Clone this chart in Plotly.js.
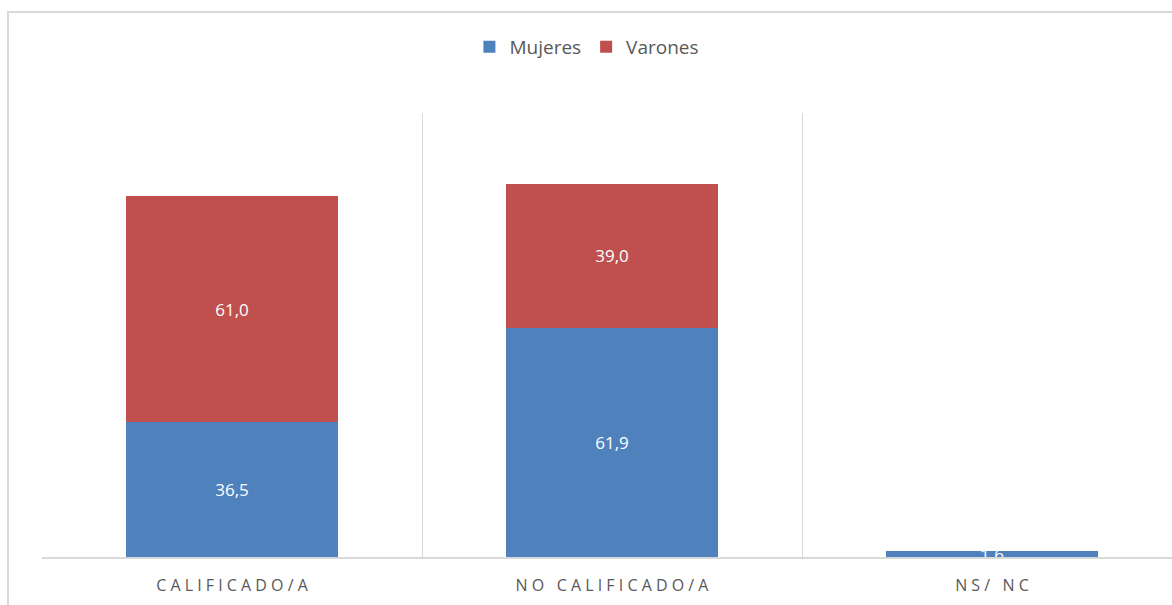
<!DOCTYPE html>
<html>
<head>
<meta charset="utf-8">
<script src="https://cdn.plot.ly/plotly-3.0.1.min.js"></script>
<style>
html, body { margin: 0; padding: 0; overflow: hidden; background: #ffffff; width: 1172px; height: 605px; }
#chart { position: absolute; left: 0; top: 0; width: 1190px; height: 605px; }
#frame { position: absolute; left: 7px; top: 11px; width: 1300px; height: 700px;
  border-top: 2px solid #d9d9d9; border-left: 2px solid #d9d9d9; pointer-events: none; }
</style>
</head>
<body>
<div id="chart"></div>
<div id="frame"></div>
<script>
const categories = ["CALIFICADO/A", "NO CALIFICADO/A", "NS/ NC"];
const mujeres = [36.5, 61.9, 1.6];
const varones = [61.0, 39.0, 0];
const seriesNames = ["Mujeres", "Varones"];
const colors = ["#4F81BD", "#C0504D"];

const spaced = categories.map(c => c.split("").join("\u00A0"));

function fmt(arr) {
  return arr.map(v => v === 0 ? "" : v.toFixed(1).replace(".", ","));
}

const textFont = { family: "Open Sans, sans-serif", size: 17, color: "#ffffff" };

const traces = [
  {
    type: "bar", name: seriesNames[0], x: categories, y: mujeres,
    marker: { color: colors[0] },
    text: fmt(mujeres), textposition: "inside", insidetextanchor: "middle",
    constraintext: "none", textfont: textFont, hoverinfo: "none"
  },
  {
    type: "bar", name: seriesNames[1], x: categories, y: varones,
    marker: { color: colors[1] },
    text: fmt(varones), textposition: "inside", insidetextanchor: "middle",
    constraintext: "none", textfont: textFont, hoverinfo: "none"
  }
];

const layout = {
  width: 1190, height: 605,
  margin: { l: 42, r: 8, t: 113, b: 48 },
  barmode: "stack",
  bargap: 0.44,
  paper_bgcolor: "#ffffff",
  plot_bgcolor: "#ffffff",
  showlegend: true,
  legend: {
    orientation: "h", x: 0.478, xanchor: "center", y: 1.149, yanchor: "middle",
    font: { family: "Open Sans, sans-serif", size: 19, color: "#595959" },
    itemwidth: 30, traceorder: "normal"
  },
  xaxis: {
    type: "category",
    tickvals: categories, ticktext: spaced,
    tickson: "boundaries",
    showgrid: true, gridcolor: "#d9d9d9", gridwidth: 1,
    showline: true, linecolor: "#d9d9d9", linewidth: 2,
    ticks: "", ticklabelstandoff: 13,
    tickfont: { family: "Open Sans, sans-serif", size: 16, color: "#595959" },
    range: [-0.5, 2.5], fixedrange: true
  },
  yaxis: {
    range: [0, 120], showgrid: false, zeroline: false,
    showticklabels: false, ticks: "", showline: false, fixedrange: true
  }
};

Plotly.newPlot("chart", traces, layout, { displayModeBar: false, staticPlot: true });
</script>
</body>
</html>
